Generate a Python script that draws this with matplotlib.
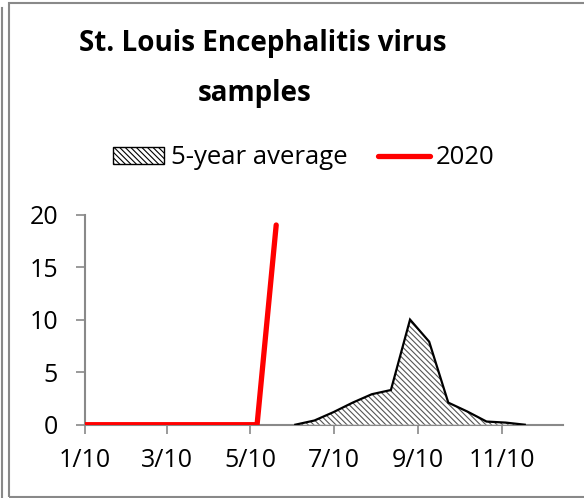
import matplotlib
matplotlib.use("Agg")
import matplotlib.pyplot as plt
import matplotlib.dates as mdates
from matplotlib.lines import Line2D
from matplotlib.patches import Rectangle
import datetime as dt

plt.rcParams['font.family'] = ['Open Sans', 'DejaVu Sans']
plt.rcParams['hatch.color'] = '#555555'
plt.rcParams['hatch.linewidth'] = 0.8

# Biweekly sample dates starting Jan 10
dates = [dt.date(2020, 1, 10) + dt.timedelta(days=14 * i) for i in range(26)]

avg_5yr = [0, 0, 0, 0, 0, 0, 0, 0, 0, 0, 0, 0, 0.4, 1.2, 2.1, 2.9, 3.3, 10.0, 7.9,
           2.1, 1.25, 0.3, 0.2, 0, 0, 0]
y2020 = [0, 0, 0, 0, 0, 0, 0, 0, 0, 0, 19]

tick_dates = [dt.date(2020, 1, 10), dt.date(2020, 3, 10), dt.date(2020, 5, 10),
              dt.date(2020, 7, 10), dt.date(2020, 9, 10), dt.date(2020, 11, 10)]
tick_labels = ['1/10', '3/10', '5/10', '7/10', '9/10', '11/10']
y_ticks = [0, 5, 10, 15, 20]

W, H = 584, 498
fig = plt.figure(figsize=(W / 100, H / 100), dpi=100)

def fx(px):
    return px / W

def fy(py):
    return 1 - py / H

ax = fig.add_axes([fx(85), fy(424.7), fx(563) - fx(85), fy(214.5) - fy(424.7)])

gray = '#898989'
HATCH = '\\' * 6
ax.fill_between(dates, avg_5yr, 0, facecolor='white', edgecolor='#555555',
                hatch=HATCH, linewidth=0, zorder=2)
# outline only around non-zero region
nz = [i for i, v in enumerate(avg_5yr) if v > 0]
i0, i1 = max(nz[0] - 1, 0), min(nz[-1] + 1, len(avg_5yr) - 1)
ax.plot(dates[i0:i1 + 1], avg_5yr[i0:i1 + 1], color='black', lw=1.6, zorder=3,
        solid_joinstyle='miter')
ax.plot(dates[:len(y2020)], y2020, color='#ff0000', lw=3.8, zorder=4,
        solid_capstyle='round', solid_joinstyle='round')

ax.set_xlim(dates[0], dates[-1])
ax.set_ylim(0, 20)
ax.set_yticks(y_ticks)
ax.set_yticklabels([str(v) for v in y_ticks])
ax.set_xticks([mdates.date2num(d) for d in tick_dates])
ax.set_xticklabels(tick_labels)

for s in ['top', 'right']:
    ax.spines[s].set_visible(False)
for s in ['left', 'bottom']:
    ax.spines[s].set_color(gray)
    ax.spines[s].set_linewidth(1.5)
    ax.spines[s].set_zorder(1)
ax.tick_params(axis='both', colors=gray, length=6.5, width=1.2, labelcolor='black',
               labelsize=18)
ax.tick_params(axis='x', pad=10.5)
ax.tick_params(axis='y', pad=13)

# Title
fig.text(fx(263), fy(51), 'St. Louis Encephalitis virus', ha='center', va='baseline',
         fontsize=20, fontweight='bold')
fig.text(fx(255), fy(101), 'samples', ha='center', va='baseline',
         fontsize=20, fontweight='bold')

# Legend
h1 = Rectangle((0, 0), 1, 1, facecolor='white', edgecolor='black', hatch=HATCH,
               linewidth=1.0)
h2 = Line2D([0], [0], color='#ff0000', lw=3.8, solid_capstyle='round')
fig.legend([h1, h2], ['5-year average', '2020'], loc='center',
           bbox_to_anchor=(fx(304), fy(158)), ncol=2, frameon=False, fontsize=18.5,
           handlelength=2.0, handleheight=0.65, handletextpad=0.25, columnspacing=1.2,
           borderpad=0, borderaxespad=0)

# Chart frame
fig.add_artist(Rectangle((fx(9), fy(497)), fx(620) - fx(9), fy(3) - fy(497),
                         transform=fig.transFigure, fill=False, edgecolor=gray, lw=1.5))
fig.add_artist(Line2D([fx(1.5), fx(1.5)], [fy(8), fy(500)], transform=fig.transFigure,
                      color=gray, lw=1.5))

fig.savefig('out.png', dpi=100)
